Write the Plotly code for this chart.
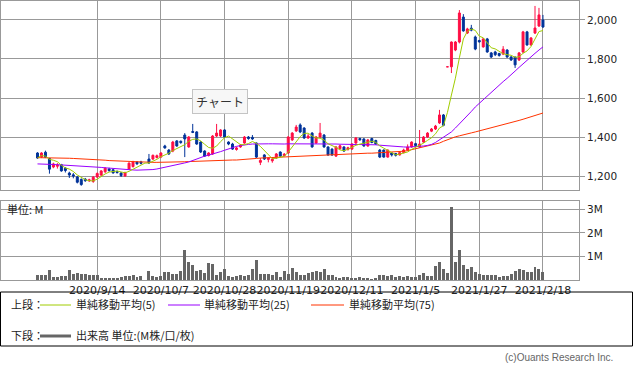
import plotly.graph_objects as go
import pandas as pd

# ---------------- data ----------------
opens = [1318,1297,1322,1290,1246,1250,1258,1240,1215,1206,1195,1182,1184,1175,1172,1195,1205,1222,1236,1232,
         1222,1215,1200,1236,1248,1272,1272,None,1287,1287,1295,1297,1354,1333,1328,1380,1378,1410,1349,1428,
         1426,1374,1328,1305,1313,1405,1405,1436,1374,1364,1336,1349,1369,1400,1398,1369,1270,1308,1285,1278,
         1292,1323,1305,1318,1385,1431,1462,1446,1395,1420,1369,1400,1410,1349,1338,1302,1340,1349,1336,1338,
         1369,1392,1390,1354,1392,1382,1333,1333,1297,1318,1315,1308,1320,1333,1349,1366,1349,1374,1400,1430,
         1441,1472,1513,1760,1760,1846,1887,2015,1933,1958,1913,1895,1862,1903,1831,1836,1828,1825,1846,1810,
         1810,1795,1836,1939,1872,1933,1969,2000]
highs = [1322,1322,1330,1292,1268,1266,1262,1245,1222,1215,1200,1188,1190,1186,1200,1218,1230,1245,1242,1238,
         1228,1220,1222,1270,1278,1276,1278,None,1313,1310,1310,1322,1360,1338,1380,1384,1382,1420,1405,1467,
         1430,1378,1332,1322,1410,1467,1440,1440,1378,1370,1350,1364,1405,1405,1410,1372,1292,1312,1296,1292,
         1318,1326,1318,1405,1425,1462,1470,1450,1415,1425,1405,1472,1415,1352,1342,1354,1360,1352,1350,1368,
         1400,1396,1394,1390,1396,1386,1338,1336,1336,1322,1318,1324,1340,1362,1378,1370,1436,1405,1425,1446,
         1462,1539,1518,1760,1890,1892,2051,2030,1960,1975,1920,1898,1908,1908,1836,1842,1832,1866,1850,1815,
         1812,1836,1944,1944,1912,2072,2062,2026]
lows = [1288,1292,1292,1212,1240,1238,1222,1218,1190,1188,1162,1150,1170,1170,1165,1190,1200,1215,1222,1212,
        1212,1195,1196,1232,1244,1258,1260,None,1262,1282,1290,1292,1340,1308,1322,1350,1365,1297,1345,1420,
        1360,1318,1298,1300,1308,1400,1400,1395,1358,1334,1330,1345,1365,1386,1385,1292,1256,1282,1270,1268,
        1288,1298,1300,1313,1380,1426,1420,1390,1390,1345,1365,1395,1345,1303,1303,1298,1336,1324,1330,1334,
        1365,1380,1350,1350,1368,1360,1292,1294,1294,1300,1300,1305,1316,1330,1345,1350,1345,1370,1395,1425,
        1436,1467,1455,1760,1728,1840,1880,1940,1928,1942,1845,1884,1858,1832,1805,1815,1812,1820,1806,1790,
        1754,1790,1830,1868,1868,1928,1965,1960]
closes = [1292,1318,1296,1235,1262,1256,1226,1228,1205,1200,1168,1156,1176,1180,1194,1213,1226,1240,1228,1216,
          1218,1202,1218,1266,1272,1262,1265,None,1267,1306,1304,1318,1344,1313,1374,1354,1372,1390,1400,1424,
          1364,1323,1302,1318,1405,1420,1436,1400,1364,1338,1344,1358,1400,1392,1390,1297,1280,1287,1292,1286,
          1313,1302,1312,1400,1420,1451,1426,1395,1405,1349,1400,1420,1349,1308,1308,1349,1355,1328,1345,1364,
          1395,1386,1354,1385,1372,1364,1297,1297,1333,1308,1306,1320,1333,1349,1374,1356,1364,1400,1420,1441,
          1456,1513,1460,1760,1887,1887,2036,1944,1954,1948,1851,1888,1903,1836,1810,1822,1818,1850,1810,1795,
          1770,1831,1939,1872,1908,1959,2026,1964]
volume_m = [0.21,0.21,0.21,0.43,0.14,0.14,0.17,0.17,0.43,0.25,
            0.28,0.25,0.25,0.20,0.20,0.22,0.10,0.07,0.07,0.07,
            0.07,0.14,0.17,0.17,0.21,0.14,0.17,None,0.38,0.17,
            0.14,0.17,0.34,0.34,0.24,0.24,0.38,1.28,0.77,0.64,
            0.38,0.43,0.28,0.71,0.68,0.21,0.35,0.47,0.17,0.14,
            0.17,0.21,0.17,0.20,0.47,0.85,0.25,0.26,0.24,0.21,
            0.35,0.14,0.38,0.26,0.50,0.35,0.21,0.21,0.28,0.35,
            0.38,0.35,0.47,0.21,0.21,0.14,0.07,0.11,0.11,0.07,
            0.09,0.11,0.10,0.07,0.04,0.06,0.21,0.21,0.18,0.21,
            0.14,0.17,0.14,0.17,0.11,0.13,0.21,0.31,0.17,0.17,
            0.60,0.78,0.45,0.31,3.12,0.78,1.28,0.64,0.47,0.57,
            0.35,0.26,0.21,0.21,0.21,0.21,0.14,0.18,0.17,0.26,
            0.38,0.47,0.43,0.33,0.35,0.57,0.47,0.35]
ma25 = [1262,1262,1261,1260,1259,1258,1257,1256,1255,1254,1253,1252,1250,1249,1248,1246,
        1244,1242,1240,1238,1236,1234,1232,1231,1231,1230,1230,1230,1231,1233,1236,1240,
        1244,1248,1252,1257,1262,1267,1272,1280,1288,1297,1302,1307,1312,1318,1325,1332,
        1340,1347,1352,1356,1360,1362,1364,1365,1365,1366,1365,1365,1364,1364,1364,1365,
        1365,1366,1367,1367,1367,1366,1366,1366,1365,1365,1364,1364,1363,1363,1362,1362,
        1361,1361,1362,1362,1361,1360,1358,1356,1354,1352,1350,1349,1349,1348,1349,1350,
        1352,1354,1357,1362,1372,1385,1398,1412,1426,1446,1466,1487,1509,1531,1554,1573,
        1592,1612,1631,1649,1666,1684,1701,1718,1738,1757,1776,1795,1812,1829,1846,1862]
ma75 = [1294,1294,1294,1293,1293,1293,1292,1292,1291,1290,1289,1288,1288,1287,1287,1286,
        1283,1281,1279,1278,1277,1276,1275,1273,1272,1271,1270,1270,1270,1270,1270,1270,
        1270,1270,1271,1271,1272,1273,1274,1275,1276,1277,1277,1278,1278,1279,1280,1281,
        1281,1282,1282,1283,1284,1286,1288,1290,1292,1293,1294,1295,1296,1297,1298,1299,
        1300,1301,1302,1304,1305,1306,1307,1308,1309,1310,1311,1312,1313,1314,1314,1315,
        1315,1316,1316,1317,1317,1318,1319,1320,1321,1322,1323,1325,1327,1330,1335,1339,
        1344,1348,1352,1357,1362,1369,1378,1387,1395,1401,1406,1410,1416,1421,1426,1431,
        1436,1441,1446,1451,1456,1461,1467,1472,1478,1485,1491,1497,1503,1510,1516,1523]
tick_pos = [15, 31, 47, 63, 79, 95, 111, 127]
tick_labels = ["2020/9/14", "2020/10/7", "2020/10/28", "2020/11/19",
               "2020/12/11", "2021/1/5", "2021/1/27", "2021/2/18"]
price_ticks = [1200, 1400, 1600, 1800, 2000]
vol_ticks = [1, 2, 3]

# ---------------- styling ----------------
W, H = 633, 373
RED, BLUE = "#ff0f44", "#003399"
C5, C25, C75 = "#a0cc00", "#9900ff", "#ff3300"
GRID = "#999999"
FONT = "DejaVu Sans, Noto Sans CJK JP, sans-serif"
JFONT = "Noto Sans CJK JP, DejaVu Sans, sans-serif"

def X(p):
    return p / W

def Y(p):
    return 1 - p / H

idx = list(range(len(closes)))
valid = [i for i in idx if closes[i] is not None]
ma5 = pd.Series([c if c is not None else float("nan") for c in closes]).rolling(5, min_periods=1).mean()

# x range so that candle i sits at pixel 37.5 + 3.98*i
x0 = (1 - 37.5) / 3.98
x1 = (579 - 37.5) / 3.98

fig = go.Figure()
fig.add_trace(go.Candlestick(
    x=valid,
    open=[opens[i] for i in valid], high=[highs[i] for i in valid],
    low=[lows[i] for i in valid], close=[closes[i] for i in valid],
    increasing=dict(line=dict(color=RED, width=1), fillcolor=RED),
    decreasing=dict(line=dict(color=BLUE, width=1), fillcolor=BLUE),
    whiskerwidth=0, hoverinfo="skip", showlegend=False,
    xaxis="x", yaxis="y"))
fig.add_trace(go.Scatter(x=idx, y=ma75, mode="lines", line=dict(color=C75, width=1),
                         showlegend=False, hoverinfo="skip", xaxis="x", yaxis="y"))
fig.add_trace(go.Scatter(x=idx, y=ma25, mode="lines", line=dict(color=C25, width=1),
                         showlegend=False, hoverinfo="skip", xaxis="x", yaxis="y"))
fig.add_trace(go.Scatter(x=idx, y=list(ma5), mode="lines", line=dict(color=C5, width=1),
                         showlegend=False, hoverinfo="skip", xaxis="x", yaxis="y"))
fig.add_trace(go.Bar(x=idx, y=volume_m, width=0.75, marker=dict(color="#666666", line=dict(width=0)),
                     showlegend=False, hoverinfo="skip", xaxis="x2", yaxis="y2"))

axis_common = dict(showline=True, mirror=True, linecolor=GRID, linewidth=1,
                   showgrid=True, gridcolor=GRID, gridwidth=1, zeroline=False, fixedrange=True)

fig.update_layout(
    width=W, height=H, margin=dict(l=0, r=0, t=0, b=0),
    paper_bgcolor="white", plot_bgcolor="white",
    font=dict(family=FONT, size=11, color="#222222"),
    bargap=0,
    xaxis=dict(domain=[X(1), X(579)], range=[x0, x1], tickvals=tick_pos, showticklabels=False,
               ticks="", anchor="y", rangeslider=dict(visible=False), **axis_common),
    yaxis=dict(domain=[Y(190), Y(1)], range=[1128.2, 2097.4], side="right", tickvals=price_ticks,
               ticktext=[f"{v:,}" for v in price_ticks], ticks="outside", ticklen=5, tickcolor=GRID,
               tickfont=dict(size=10.5, color="#222222"), anchor="x", **axis_common),
    xaxis2=dict(domain=[X(1), X(579)], range=[x0, x1], tickvals=tick_pos, ticktext=tick_labels,
                ticks="", tickangle=0, anchor="y2", tickfont=dict(size=11, color="#222222"), **axis_common),
    yaxis2=dict(domain=[Y(280), Y(201)], range=[0, 3.36], side="right", tickvals=vol_ticks,
                ticktext=[f"{v}M" for v in vol_ticks], ticks="outside", ticklen=5, tickcolor=GRID,
                tickfont=dict(size=10.5, color="#222222"), anchor="x2", **axis_common),
)

shapes = [
    dict(type="rect", xref="paper", yref="paper", x0=X(0.5), x1=X(632.5), y0=Y(346), y1=Y(292),
         line=dict(color="#000000", width=1)),
    dict(type="line", xref="paper", yref="paper", x0=X(40), x1=X(71), y0=Y(305), y1=Y(305),
         line=dict(color=C5, width=1)),
    dict(type="line", xref="paper", yref="paper", x0=X(168), x1=X(200), y0=Y(305), y1=Y(305),
         line=dict(color=C25, width=1)),
    dict(type="line", xref="paper", yref="paper", x0=X(311), x1=X(344), y0=Y(305), y1=Y(305),
         line=dict(color=C75, width=1)),
    dict(type="line", xref="paper", yref="paper", x0=X(40), x1=X(71), y0=Y(336), y1=Y(336),
         line=dict(color="#666666", width=3)),
]
fig.update_layout(shapes=shapes)

def ann(text, x, y, size=11, xanchor="left", color="#222222", family=JFONT, **kw):
    fig.add_annotation(text=text, xref="paper", yref="paper", x=X(x), y=Y(y), xanchor=xanchor,
                       yanchor="middle", showarrow=False, font=dict(size=size, color=color, family=family), **kw)

ann("単位: M", 5, 209)
ann("上段：", 9, 304)
ann("単純移動平均(5)", 74, 304)
ann("単純移動平均(25)", 202, 304)
ann("単純移動平均(75)", 347, 304)
ann("下段：", 9, 335)
ann("出来高 単位:(M株/口/枚)", 74, 335)
ann("(c)Ouants Research Inc.", 615, 357, size=10, xanchor="right", color="#666666",
    family="Liberation Sans, Arial, sans-serif")
ann("チャート", 220, 102, size=12, xanchor="center", color="#333333",
    bgcolor="#f7f7f7", bordercolor="#c4c4c4", borderwidth=1, borderpad=3)

fig.write_html("out.html", config={"displayModeBar": False},
               post_script="document.body.style.margin='0';document.body.style.overflow='hidden';")
